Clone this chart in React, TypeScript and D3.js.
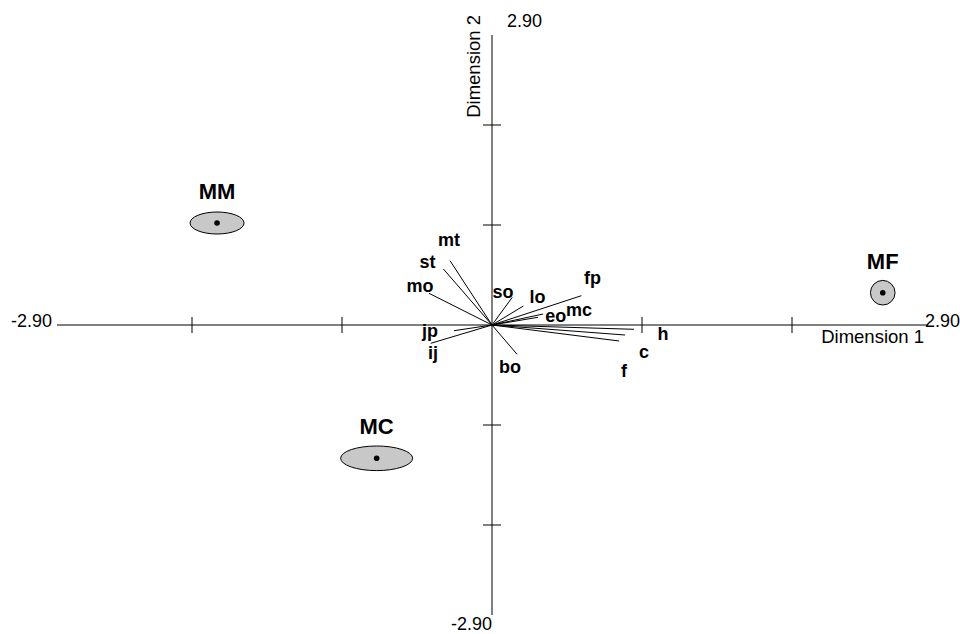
import React, { useEffect, useRef } from "react";
import * as d3 from "d3";

// biplot vectors (variable loadings)
const varNames = ["mt", "st", "mo", "so", "lo", "fp", "eo", "mc", "h", "c", "f", "jp", "ij", "bo"];
const varX = [-0.28, -0.324, -0.42, 0.135, 0.209, 0.596, 0.341, 0.307, 0.947, 0.887, 0.848, -0.253, -0.408, 0.167];
const varY = [0.643, 0.56, 0.317, 0.277, 0.19, 0.293, 0.11, 0.077, -0.043, -0.1, -0.16, -0.057, -0.183, -0.293];
// where each vector label sits (data units, text centre / baseline)
const labelX = [-0.287, -0.43, -0.48, 0.073, 0.303, 0.67, 0.425, 0.58, 1.14, 1.013, 0.88, -0.413, -0.393, 0.12];
const labelY = [0.79, 0.567, 0.333, 0.267, 0.223, 0.41, 0.033, 0.09, -0.15, -0.333, -0.517, -0.117, -0.34, -0.477];

// group centroids with confidence ellipses
const groupNames = ["MM", "MC", "MF"];
const groupX = [-1.833, -0.769, 2.605];
const groupY = [1.02, -1.333, 0.323];
const groupRx = [0.18, 0.24, 0.082];
const groupRy = [0.11, 0.123, 0.123];

const axisMin = -2.9;
const axisMax = 2.9;
const xTicks = [-2, -1, 1, 2];
const yTicks = [-2, -1, 1, 2];

const FONT = "'Liberation Sans', Arial, Helvetica, sans-serif";

export default function App() {
  const ref = useRef<SVGSVGElement>(null);

  useEffect(() => {
    document.body.style.margin = "0";
    const svg = d3.select(ref.current);
    svg.selectAll("*").remove();

    const x = d3.scaleLinear().domain([axisMin, axisMax]).range([57, 927]);
    const y = d3.scaleLinear().domain([axisMin, axisMax]).range([615, 35]);

    const g = svg.append("g").attr("font-family", FONT);

    // axes through the origin
    g.append("line")
      .attr("x1", x(axisMin)).attr("x2", x(axisMax))
      .attr("y1", y(0)).attr("y2", y(0))
      .attr("stroke", "#000");
    g.append("line")
      .attr("x1", x(0)).attr("x2", x(0))
      .attr("y1", y(axisMin)).attr("y2", y(axisMax))
      .attr("stroke", "#000");

    g.selectAll(".xtick").data(xTicks).enter().append("line")
      .attr("x1", d => x(d)).attr("x2", d => x(d))
      .attr("y1", y(0) - 8).attr("y2", y(0) + 8)
      .attr("stroke", "#000");
    g.selectAll(".ytick").data(yTicks).enter().append("line")
      .attr("x1", x(0) - 9).attr("x2", x(0) + 9)
      .attr("y1", d => y(d)).attr("y2", d => y(d))
      .attr("stroke", "#000");

    // axis end labels
    const endLabel = (tx: number, ty: number, s: string, anchor: string) =>
      g.append("text").attr("x", tx).attr("y", ty)
        .attr("text-anchor", anchor).attr("font-size", 18).text(s);
    endLabel(x(axisMin) - 5, y(0) + 2, axisMin.toFixed(2), "end");
    endLabel(x(axisMax) - 2, y(0) + 2, axisMax.toFixed(2), "start");
    endLabel(x(0) + 15, y(axisMax) - 8, axisMax.toFixed(2), "start");
    endLabel(x(0), y(axisMin) + 15, axisMin.toFixed(2), "end");

    g.append("text")
      .attr("x", x(axisMax) - 3).attr("y", y(0) + 18)
      .attr("text-anchor", "end").attr("font-size", 18.5)
      .text("Dimension 1");
    g.append("text")
      .attr("transform", `translate(${x(0) - 12},${15}) rotate(-90)`)
      .attr("text-anchor", "end").attr("font-size", 18.5)
      .text("Dimension 2");

    // variable vectors
    const vars = varNames.map((name, i) => ({
      name, x: varX[i], y: varY[i], lx: labelX[i], ly: labelY[i],
    }));
    g.selectAll(".vec").data(vars).enter().append("line")
      .attr("x1", x(0)).attr("y1", y(0))
      .attr("x2", d => x(d.x)).attr("y2", d => y(d.y))
      .attr("stroke", "#000").attr("stroke-width", 1);
    g.selectAll(".vlab").data(vars).enter().append("text")
      .attr("x", d => x(d.lx)).attr("y", d => y(d.ly))
      .attr("text-anchor", "middle")
      .attr("font-size", 18).attr("font-weight", "bold")
      .text(d => d.name);

    // groups
    const groups = groupNames.map((name, i) => ({
      name, x: groupX[i], y: groupY[i], rx: groupRx[i], ry: groupRy[i],
    }));
    const perUnitX = x(1) - x(0);
    const perUnitY = y(0) - y(1);
    g.selectAll(".ell").data(groups).enter().append("ellipse")
      .attr("cx", d => x(d.x)).attr("cy", d => y(d.y))
      .attr("rx", d => d.rx * perUnitX).attr("ry", d => d.ry * perUnitY)
      .attr("fill", "#c8c8c8").attr("stroke", "#000").attr("stroke-width", 1);
    g.selectAll(".dot").data(groups).enter().append("circle")
      .attr("cx", d => x(d.x)).attr("cy", d => y(d.y)).attr("r", 2.8)
      .attr("fill", "#000");
    g.selectAll(".glab").data(groups).enter().append("text")
      .attr("x", d => x(d.x)).attr("y", d => y(d.y) - 24)
      .attr("text-anchor", "middle")
      .attr("font-size", 22).attr("font-weight", "bold")
      .text(d => d.name);
  }, []);

  return <svg ref={ref} width={960} height={634} style={{ display: "block" }} />;
}
